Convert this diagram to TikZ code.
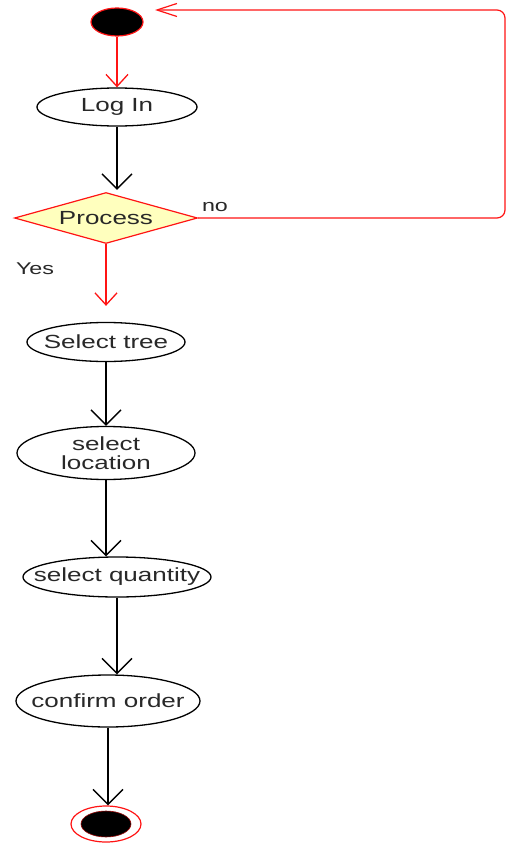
\documentclass[tikz,border=0pt]{standalone}
\usepackage{fontspec}
\setmainfont{Liberation Sans}
\usetikzlibrary{shapes.geometric,arrows.meta}
\definecolor{flowred}{RGB}{255,20,20}
\definecolor{decfill}{RGB}{255,255,190}
\definecolor{txt}{RGB}{40,40,40}
\newcommand{\wtxt}[1]{\scalebox{1.37}[1]{#1}}
\tikzset{
  act/.style={ellipse, draw=black, line width=1.3pt, fill=white, inner sep=0pt,
    label={[text=txt, font=\fontsize{19}{19}\selectfont, align=center, inner sep=0pt]center:#1}},
  blackflow/.style={draw=black, line width=1.4pt, -{Straight Barb[length=15pt,width=30pt,line width=1.4pt]}},
  redflow/.style={draw=flowred, line width=1.3pt, -{Straight Barb[length=12pt,width=22pt,line width=1.3pt]}},
  lbl/.style={text=txt, font=\fontsize{17}{18}\selectfont}
}
\begin{document}
\begin{tikzpicture}[x=1pt, y=-1pt]
  \useasboundingbox (0,0) rectangle (510,843);

  % initial and final states
  \node[ellipse, draw=flowred, fill=black, line width=1.2pt, minimum width=52pt, minimum height=28pt, inner sep=0pt] (start) at (117,22) {};
  \node[ellipse, draw=flowred, fill=white, line width=1.2pt, minimum width=70pt, minimum height=36pt, inner sep=0pt] (stop) at (106,824) {};
  \node[ellipse, draw=flowred!60!black, fill=black, line width=0.6pt, minimum width=50pt, minimum height=26pt, inner sep=0pt] (stopdot) at (106,824) {};

  % activities
  \node[act={\wtxt{Log In}}, minimum width=160pt, minimum height=38pt] (login) at (117,107) {};
  \node[diamond, draw=flowred, fill=decfill, line width=1.2pt, minimum width=183pt, minimum height=51pt, inner sep=0pt] (proc) at (106,218) {};
  \node[text=txt, font=\fontsize{19}{20}\selectfont] at (proc) {\wtxt{Process}};
  \node[act={\wtxt{Select tree}}, minimum width=158pt, minimum height=39pt] (tree) at (106,342) {};
  \node[act={\wtxt{select}\\\wtxt{location}}, minimum width=178pt, minimum height=53pt] (loc) at (106,453) {};
  \node[act={\wtxt{select quantity}}, minimum width=188pt, minimum height=40pt] (qty) at (117,577) {};
  \node[act={\wtxt{confirm order}}, minimum width=184pt, minimum height=52pt] (conf) at (108,701) {};

  % guard labels
  \node[lbl] (nolbl) at (215,207) {\wtxt{no}};
  \node[lbl] (yeslbl) at (35,269) {\wtxt{Yes}};

  % flows
  \draw[redflow] (start.south) -- (start.south |- login.north);
  \draw[blackflow] (login.south) -- ([yshift=2pt]login.south |- proc.north);
  \draw[redflow] (proc.south) -- ([yshift=16pt]proc.south |- tree.north);
  \draw[blackflow] (tree.south) -- (tree.south |- loc.north);
  \draw[blackflow] (loc.south) -- (loc.south |- qty.north);
  \draw[blackflow] (qty.south) -- (qty.south |- conf.north);
  \draw[blackflow] (conf.south) -- (conf.south |- stop.north);

  % loop back to the start when the check fails
  \coordinate (back) at (155,10);
  \draw[draw=flowred, line width=1.2pt, rounded corners=8pt,
        -{Straight Barb[length=20pt,width=13pt,line width=1.2pt]}]
    (proc.east) -- (505,218) -- (505,10) -- (back);
\end{tikzpicture}
\end{document}
